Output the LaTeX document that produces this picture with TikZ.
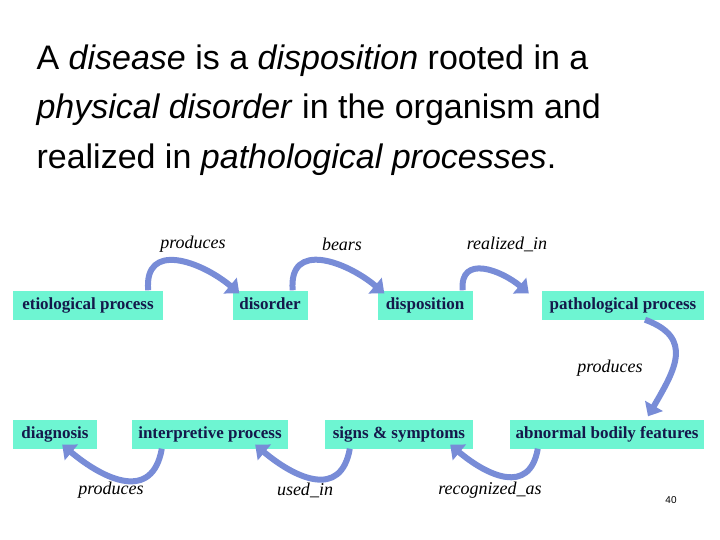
\documentclass[tikz,border=0pt]{standalone}
\usepackage{fontspec}
\setmainfont{Liberation Serif}
\newfontfamily\titlefont{Liberation Sans}
\usetikzlibrary{arrows.meta}
\definecolor{boxfill}{RGB}{110,245,210}
\definecolor{boxtext}{RGB}{20,25,75}
\definecolor{arrowblue}{RGB}{120,140,215}
\definecolor{arrowline}{RGB}{40,50,110}
\begin{document}
\begin{tikzpicture}[x=1pt,y=-1pt]
            \tikzstyle{boxp}=[fill=boxfill,text=boxtext,font=\fontsize{17}{17}\selectfont\bfseries,minimum height=29pt,text height=12pt,text depth=4pt,inner sep=0pt]
            \tikzstyle{relp}=[font=\fontsize{18}{18}\selectfont\itshape]
            \tikzstyle{flowp}=[line width=6pt,draw=arrowblue,-{Triangle[width=20pt,length=12pt]},looseness=1.4]
            \useasboundingbox (0,0) rectangle (720,540);

            %title
            \node[anchor=base west,font=\titlefont\fontsize{34}{34}\selectfont] (l1) at (33,70) {A \textit{disease} is a \textit{disposition} rooted in a};
            \node[anchor=base west,font=\titlefont\fontsize{34}{34}\selectfont] (l2) at (33,119) {\textit{physical disorder} in the organism and};
            \node[anchor=base west,font=\titlefont\fontsize{34}{34}\selectfont] (l3) at (33,169) {realized in \textit{pathological processes}.};

            %top_row
            \node[boxp,minimum width=150pt] (etio) at (88,305) {etiological process};
            \node[boxp,minimum width=75pt] (disorder) at (270,305) {disorder};
            \node[boxp,minimum width=95pt] (dispo) at (425,305) {disposition};
            \node[boxp,minimum width=162pt] (patho) at (623,305) {pathological process};

            %bottom_row
            \node[boxp,minimum width=84pt] (diag) at (55,434) {diagnosis};
            \node[boxp,minimum width=156pt] (interp) at (210,434) {interpretive process};
            \node[boxp,minimum width=148pt] (signs) at (399,434) {signs \& symptoms};
            \node[boxp,minimum width=194pt] (abn) at (607,434) {abnormal bodily features};

            %arrows
            \draw[flowp] ([xshift=-15pt]etio.north east) to[out=95,in=140] ([xshift=7pt,yshift=-3pt]disorder.north west);
            \draw[flowp] ([xshift=-15pt]disorder.north east) to[out=95,in=140] ([xshift=7pt,yshift=-3pt]dispo.north west);
            \draw[flowp] ([xshift=-10pt]dispo.north east) to[out=95,in=140] ([xshift=-13pt,yshift=-3pt]patho.north west);
            \draw[flowp] ([xshift=22pt]patho.south) to[out=-20,in=60] ([xshift=41pt,yshift=3pt]abn.north);
            \draw[flowp] ([xshift=28pt]abn.south west) to[out=-100,in=-40] ([xshift=-23pt,yshift=4pt]signs.south east);
            \draw[flowp] ([xshift=25pt]signs.south west) to[out=-100,in=-40] ([xshift=-33pt,yshift=4pt]interp.south east);
            \draw[flowp] ([xshift=30pt]interp.south west) to[out=-100,in=-40] ([xshift=-35pt,yshift=4pt]diag.south east);

            %labels
            \node[relp] (r1) at (193,244) {produces};
            \node[relp] (r2) at (342,244) {bears};
            \node[relp] (r3) at (507,244) {realized\_in};
            \node[relp] (r4) at (610,368) {produces};
            \node[relp] (r5) at (111,490) {produces};
            \node[relp] (r6) at (305,490) {used\_in};
            \node[relp] (r7) at (490,490) {recognized\_as};
            \node[font=\titlefont\fontsize{10}{10}\selectfont] (pg) at (671,500) {40};
\end{tikzpicture}
\end{document}
